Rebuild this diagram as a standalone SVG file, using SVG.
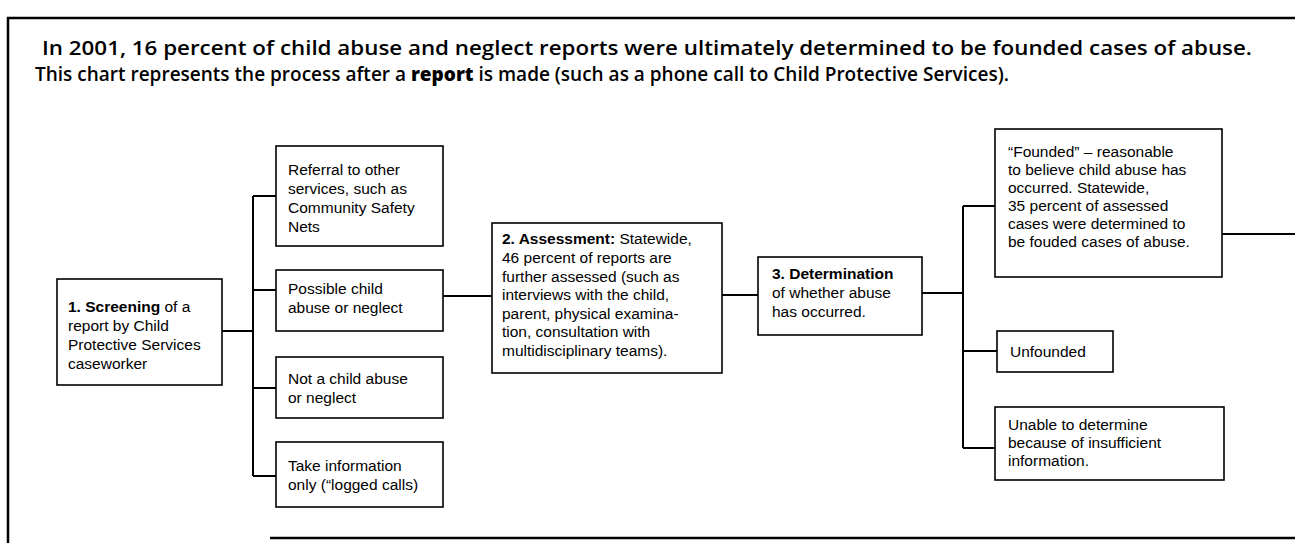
<svg xmlns="http://www.w3.org/2000/svg" width="1295" height="543" viewBox="0 0 1295 543">
<style>
text{font-family:"Liberation Sans",Arial,sans-serif;fill:#000}
.t{font-family:"Open Sans","Liberation Sans",sans-serif;font-size:19px;font-weight:600}
.r{font-weight:800}
.b{font-size:15.5px}
.bb{font-weight:700}
.box{fill:#fff;stroke:#000;stroke-width:1.6}
.c{fill:none;stroke:#000;stroke-width:2}
.frame{fill:none;stroke:#000;stroke-width:2.5}
</style>
<rect width="1295" height="543" fill="#fff"/>
<g id="frame">
<path class="frame" d="M8,543 V18 H1295"/>
<path class="frame" d="M270,538 H1295"/>
</g>
<g id="title">
<text class="t" x="42" y="55" textLength="1210" lengthAdjust="spacingAndGlyphs">In 2001, 16 percent of child abuse and neglect reports were ultimately determined to be founded cases of abuse.</text>
<text class="t" x="35" y="81">This chart represents the process after a <tspan class="r">report</tspan> is made (such as a phone call to Child Protective Services).</text>
</g>
<g id="connectors">
<path class="c" d="M222,331 H253 M253,196 V476 M253,196 H276 M253,290 H276 M253,388 H276 M253,476 H276"/>
<path class="c" d="M443,296 H492 M722,295 H758 M922,293 H963 M963,206 V448 M963,206 H995 M963,351 H997 M963,448 H995 M1222,234 H1295"/>
</g>
<g id="screening">
<rect class="box" x="57" y="279" width="165" height="106"/>
<text class="b"><tspan x="68" y="312"><tspan class="bb">1. Screening</tspan> of a</tspan><tspan x="68" y="331">report by Child</tspan><tspan x="68" y="350">Protective Services</tspan><tspan x="68" y="369">caseworker</tspan></text>
</g>
<g id="referral">
<rect class="box" x="276" y="146" width="167" height="100"/>
<text class="b"><tspan x="288" y="175">Referral to other</tspan><tspan x="288" y="194">services, such as</tspan><tspan x="288" y="213">Community Safety</tspan><tspan x="288" y="232">Nets</tspan></text>
</g>
<g id="possible">
<rect class="box" x="276" y="270" width="167" height="61"/>
<text class="b"><tspan x="288" y="294">Possible child</tspan><tspan x="288" y="313">abuse or neglect</tspan></text>
</g>
<g id="not-abuse">
<rect class="box" x="276" y="357" width="167" height="61"/>
<text class="b"><tspan x="288" y="384">Not a child abuse</tspan><tspan x="288" y="403">or neglect</tspan></text>
</g>
<g id="take-info">
<rect class="box" x="276" y="442" width="167" height="65"/>
<text class="b"><tspan x="288" y="471">Take information</tspan><tspan x="288" y="490">only (“logged calls)</tspan></text>
</g>
<g id="assessment">
<rect class="box" x="492" y="223" width="230" height="150"/>
<text class="b"><tspan x="502" y="244"><tspan class="bb">2. Assessment:</tspan> Statewide,</tspan><tspan x="502" y="263">46 percent of reports are</tspan><tspan x="502" y="281.5">further assessed (such as</tspan><tspan x="502" y="300">interviews with the child,</tspan><tspan x="502" y="318.5">parent, physical examina-</tspan><tspan x="502" y="337">tion, consultation with</tspan><tspan x="502" y="356">multidisciplinary teams).</tspan></text>
</g>
<g id="determination">
<rect class="box" x="758" y="257" width="164" height="78"/>
<text class="b"><tspan x="772" y="279" class="bb">3. Determination</tspan><tspan x="772" y="298">of whether abuse</tspan><tspan x="772" y="317">has occurred.</tspan></text>
</g>
<g id="founded">
<rect class="box" x="995" y="129" width="227" height="148"/>
<text class="b"><tspan x="1008" y="157">“Founded” – reasonable</tspan><tspan x="1008" y="175">to believe child abuse has</tspan><tspan x="1008" y="193">occurred. Statewide,</tspan><tspan x="1008" y="211">35 percent of assessed</tspan><tspan x="1008" y="229">cases were determined to</tspan><tspan x="1008" y="247">be fouded cases of abuse.</tspan></text>
</g>
<g id="unfounded">
<rect class="box" x="997" y="331" width="116" height="41"/>
<text class="b"><tspan x="1010" y="357">Unfounded</tspan></text>
</g>
<g id="unable">
<rect class="box" x="995" y="407" width="229" height="73"/>
<text class="b"><tspan x="1008" y="430">Unable to determine</tspan><tspan x="1008" y="448">because of insufficient</tspan><tspan x="1008" y="466">information.</tspan></text>
</g>
</svg>
